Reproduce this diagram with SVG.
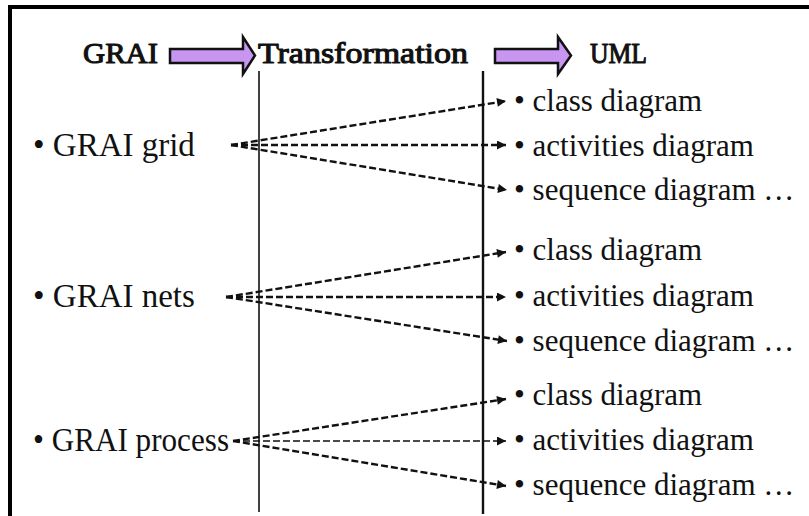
<svg xmlns="http://www.w3.org/2000/svg" width="809" height="516" viewBox="0 0 809 516">
<defs>
<style>
text{fill:#111}
.hdr{font-size:30px;stroke:#111;stroke-width:1.1;stroke-linejoin:round}
.lbl{font-size:33px}
.itm{font-size:31px}
.bigarrow{fill:#c896f0;stroke:#111;stroke-width:2.5;stroke-linejoin:miter}
.conn{stroke:#111;stroke-width:2.4;stroke-dasharray:7 3;fill:none}
.thin{stroke-width:1.4}
.vline{stroke:#111;fill:none}
</style>
<marker id="ah" viewBox="0 0 10 10" refX="10" refY="5" markerWidth="11" markerHeight="9" markerUnits="userSpaceOnUse" orient="auto">
<path d="M0,0 L10,5 L0,10 z" fill="#111"/>
</marker>
</defs>
<rect width="809" height="516" fill="#fff"/>
<g id="frame">
<rect x="8" y="5" width="801" height="4" fill="#000"/>
<rect x="8" y="5" width="4" height="511" fill="#000"/>
</g>
<g id="header" font-family="'Liberation Serif', serif">
<text class="hdr" x="83" y="63" textLength="75" lengthAdjust="spacingAndGlyphs">GRAI</text>
<path class="bigarrow" d="M170,49 H243 V37 L255,55.5 L243,74 V63 H170 Z"/>
<text class="hdr" x="258" y="63" textLength="210" lengthAdjust="spacingAndGlyphs">Transformation</text>
<path class="bigarrow" d="M495,49 H558 V37 L571,55.5 L558,74 V63 H495 Z"/>
<text class="hdr" x="590" y="63" textLength="57" lengthAdjust="spacingAndGlyphs">UML</text>
</g>
<g id="columns">
<line class="vline" x1="259" y1="71" x2="259" y2="512" stroke-width="1.6"/>
<line class="vline" x1="483" y1="71" x2="483" y2="514" stroke-width="2.4"/>
</g>
<g id="grai-grid" font-family="'Liberation Serif', serif"><text class="lbl" x="33" y="156">• GRAI grid</text></g>
<g id="grai-nets" font-family="'Liberation Serif', serif"><text class="lbl" x="33" y="307">• GRAI nets</text></g>
<g id="grai-process" font-family="'Liberation Serif', serif"><text class="lbl" x="33" y="451" textLength="196" lengthAdjust="spacingAndGlyphs">• GRAI process</text></g>
<g id="uml-1" font-family="'Liberation Serif', serif">
<text class="itm" x="514" y="111">• class diagram</text>
<text class="itm" x="514" y="156">• activities diagram</text>
<text class="itm" x="514" y="200">• sequence diagram …</text>
</g>
<g id="uml-2" font-family="'Liberation Serif', serif">
<text class="itm" x="514" y="260">• class diagram</text>
<text class="itm" x="514" y="306">• activities diagram</text>
<text class="itm" x="514" y="351">• sequence diagram …</text>
</g>
<g id="uml-3" font-family="'Liberation Serif', serif">
<text class="itm" x="514" y="405">• class diagram</text>
<text class="itm" x="514" y="450">• activities diagram</text>
<text class="itm" x="514" y="495">• sequence diagram …</text>
</g>
<g id="connectors">
<line class="conn" x1="231" y1="145" x2="506" y2="101" marker-end="url(#ah)"/>
<line class="conn" x1="231" y1="145" x2="506" y2="145" marker-end="url(#ah)"/>
<line class="conn" x1="231" y1="145" x2="507" y2="190" marker-end="url(#ah)"/>
<line class="conn" x1="226" y1="297" x2="506" y2="252" marker-end="url(#ah)"/>
<line class="conn" x1="226" y1="297" x2="506" y2="297" marker-end="url(#ah)"/>
<line class="conn" x1="226" y1="297" x2="507" y2="341" marker-end="url(#ah)"/>
<line class="conn" x1="233" y1="441" x2="506" y2="399" marker-end="url(#ah)"/>
<line class="conn thin" x1="233" y1="441" x2="506" y2="441" marker-end="url(#ah)"/>
<line class="conn" x1="233" y1="441" x2="506" y2="486" marker-end="url(#ah)"/>
</g>
</svg>
